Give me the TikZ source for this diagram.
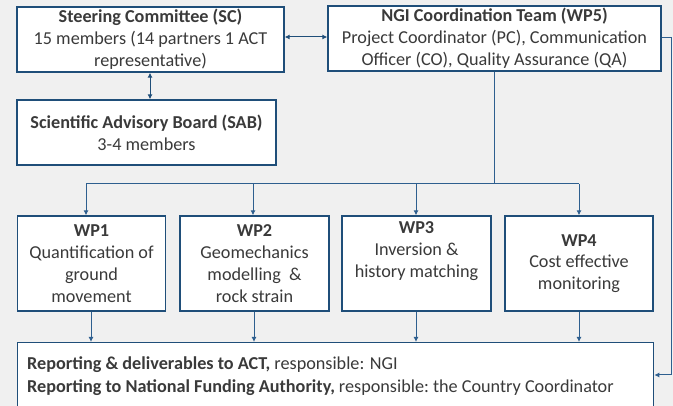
\documentclass[tikz,border=0pt]{standalone}
\usepackage{fontspec}
\setmainfont{Carlito}
\usetikzlibrary{arrows.meta}
\definecolor{bg}{HTML}{F0F0F0}
\definecolor{frame}{HTML}{1F4E79}
\definecolor{conn}{HTML}{2E5F8F}
\definecolor{txt}{HTML}{3A3A3A}
\tikzset{
  box/.style={draw=frame, line width=1.3pt, fill=white, text=txt, align=center, inner sep=0pt, font=\fontsize{18.2}{21.8}\selectfont},
  link/.style={draw=conn, line width=1pt, -{Latex[length=5pt,width=5pt]}},
  dlink/.style={draw=frame, line width=1pt, {Latex[length=5pt,width=5pt]}-{Latex[length=5pt,width=5pt]}}
}
\begin{document}
\begin{tikzpicture}[x=1pt,y=-1pt]
\clip (0,0) rectangle (673,406);
\fill[bg] (0,0) rectangle (673,406);
\node[box, minimum width=267pt, minimum height=65pt] (sc) at (150.5,39.5)
  {\textbf{Steering Committee (SC)}\\15 members (14 partners 1 ACT\\representative)};
\node[box, minimum width=259pt, minimum height=65pt] (sab) at (146.5,132.5)
  {\textbf{Scientific Advisory Board (SAB)}\\3-4 members};
\node[box, minimum width=333pt, minimum height=65pt] (ngi) at (494.5,38.5)
  {\textbf{NGI Coordination Team (WP5)}\\Project Coordinator (PC), Communication\\Officer (CO), Quality Assurance\ (QA)};
\node[box, minimum width=148pt, minimum height=95pt] (wp1) at (91.5,263.5)
  {\textbf{WP1}\\Quantification of\\ground\\movement};
\node[box, minimum width=149pt, minimum height=95pt] (wp2) at (254.5,263.5)
  {\textbf{WP2}\\Geomechanics\\modelling\ \ \&\\rock strain};
\node[box, minimum width=149pt, minimum height=95pt] (wp3) at (416.5,263.5)
  {\textbf{WP3}\\Inversion \&\\history matching\\\strut};
\node[box, minimum width=148pt, minimum height=95pt] (wp4) at (579,263.5)
  {\textbf{WP4}\\Cost effective\\monitoring};
\node[box, minimum width=636pt, minimum height=90pt, anchor=north west] (rep) at (17,342)
  {};
\node[text=txt, anchor=north west, align=left, inner sep=0pt, font=\fontsize{18.2}{22.5}\selectfont] (reptext) at (27,357)
  {\textbf{Reporting \& deliverables to ACT,} responsible: NGI\\
   \textbf{Reporting to National Funding Authority,} responsible:\ the Country Coordinator};
% connectors
\draw[dlink] (sc.east |- 0,37) -- (ngi.west |- 0,37);
\draw[dlink] (sc.south -| 150,0) -- (sab.north -| 150,0);
\coordinate (split) at (494,184);
\draw[conn, line width=1pt] (ngi.south -| split) -- (split);
\draw[conn, line width=1pt] (86,184) -- (579,184);
\draw[link] (86,184) -- (wp1.north -| 86,0);
\draw[link] (253,184) -- (wp2.north -| 253,0);
\draw[link] (416,184) -- (wp3.north -| 416,0);
\draw[link] (579,184) -- (wp4.north -| 579,0);
\draw[link] (wp1.south -| 91,0) -- (rep.north -| 91,0);
\draw[link] (wp2.south -| 254,0) -- (rep.north -| 254,0);
\draw[link] (wp3.south -| 416,0) -- (rep.north -| 416,0);
\draw[link] (wp4.south -| 579,0) -- (rep.north -| 579,0);
\coordinate (rt) at (671.5,38);
\coordinate (rb) at (671.5,375);
\draw[link] (ngi.east |- rt) -- (rt) -- (rb) -- (rep.east |- rb);
\end{tikzpicture}
\end{document}
